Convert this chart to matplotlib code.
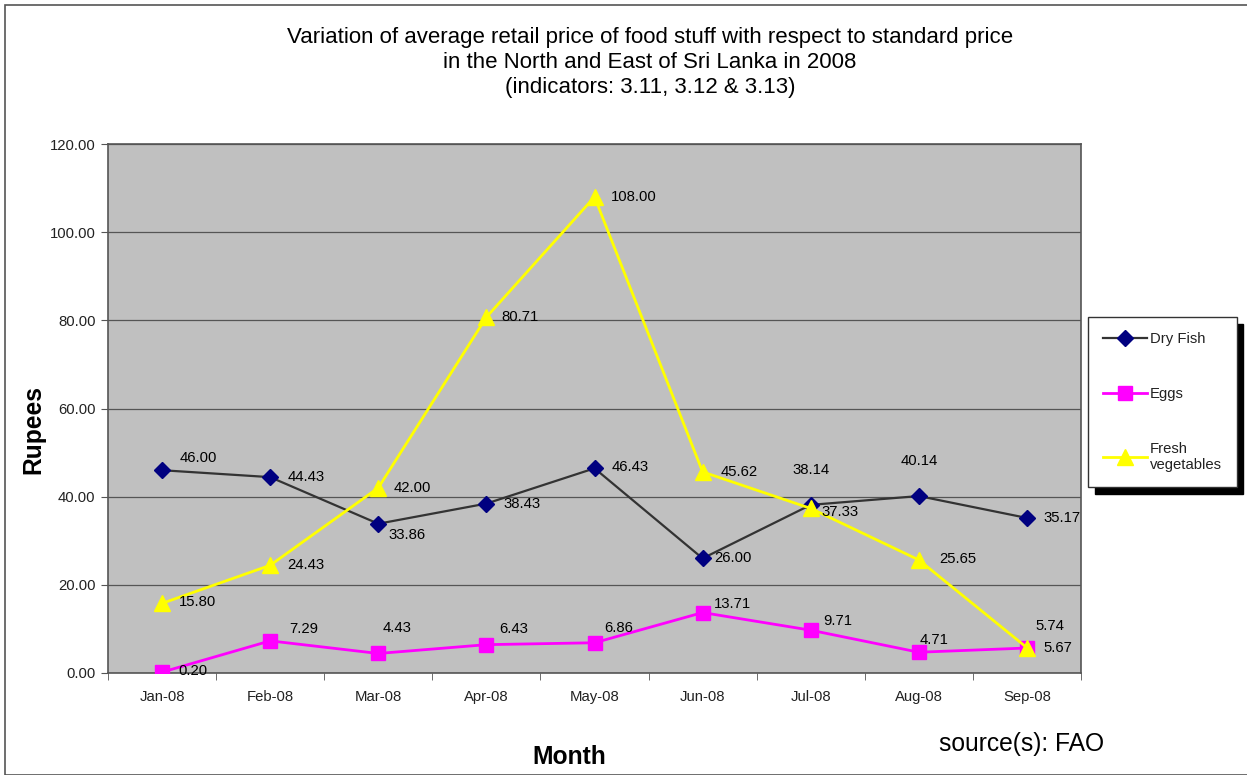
import matplotlib
matplotlib.use("Agg")
import matplotlib.pyplot as plt
from matplotlib.patches import Rectangle
from matplotlib.ticker import FixedLocator

plt.rcParams['font.family'] = ['Liberation Sans', 'DejaVu Sans']

months = ["Jan-08", "Feb-08", "Mar-08", "Apr-08", "May-08", "Jun-08", "Jul-08", "Aug-08", "Sep-08"]
dry_fish = [46.00, 44.43, 33.86, 38.43, 46.43, 26.00, 38.14, 40.14, 35.17]
eggs = [0.20, 7.29, 4.43, 6.43, 6.86, 13.71, 9.71, 4.71, 5.67]
fresh_veg = [15.80, 24.43, 42.00, 80.71, 108.00, 45.62, 37.33, 25.65, 5.74]
y_ticks = [0, 20, 40, 60, 80, 100, 120]

# label offsets in pixels (dx, dy, ha)
off_fish = [(18, 12, 'left'), (17, 0, 'left'), (10, -11, 'left'), (17, 0, 'left'), (17, 1, 'left'),
            (12, 0, 'left'), (0, 35, 'center'), (0, 35, 'center'), (17, 0, 'left')]
off_eggs = [(16, 1, 'left'), (19, 12, 'left'), (19, 25, 'center'), (13, 16, 'left'), (10, 15, 'left'),
            (11, 9, 'left'), (13, 9, 'left'), (15, 12, 'center'), (17, 0, 'left')]
off_veg = [(17, 1, 'left'), (17, 0, 'left'), (15, 0, 'left'), (15, 0, 'left'), (16, 0, 'left'),
           (18, 0, 'left'), (11, -4, 'left'), (20, 1, 'left'), (23, 22, 'center')]

fig = plt.figure(figsize=(12.47, 7.75), dpi=100)
fig.patch.set_facecolor('white')
fig.patches.append(Rectangle((5 / 1247, 0), 1.2, (775 - 5) / 775, transform=fig.transFigure,
                             fill=False, edgecolor='#555555', linewidth=1.2))

ax = fig.add_axes([108 / 1247, 102 / 775, (1081 - 108) / 1247, (673 - 144) / 775])
ax.set_facecolor('#C0C0C0')
x = list(range(len(months)))

ax.plot(x, dry_fish, color='#333333', lw=1.6, marker='D', ms=8, mfc='#000080', mec='#000080',
        label='Dry Fish', zorder=3)
ax.plot(x, eggs, color='#FF00FF', lw=2, marker='s', ms=10, mfc='#FF00FF', mec='#FF00FF',
        label='Eggs', zorder=3)
ax.plot(x, fresh_veg, color='#FFFF00', lw=2, marker='^', ms=11, mfc='#FFFF00', mec='#FFFF00',
        label='Fresh\nvegetables', zorder=4)

for series, offs in ((dry_fish, off_fish), (eggs, off_eggs), (fresh_veg, off_veg)):
    for xi, v, (dx, dy, ha) in zip(x, series, offs):
        ax.annotate(f"{v:.2f}", (xi, v), xytext=(dx, dy), textcoords='offset pixels',
                    ha=ha, va='center', fontsize=10.7, color='black', zorder=5)

ax.set_xlim(-0.5, len(months) - 0.5)
ax.set_ylim(0, 120)
ax.set_yticks(y_ticks)
ax.set_yticklabels([f"{t:.2f}" for t in y_ticks], fontsize=10.7, color='#222222')
ax.yaxis.grid(True, color='#555555', lw=0.9)
ax.set_axisbelow(True)
ax.set_xticks(x)
ax.set_xticklabels(months, fontsize=10.7, color='#222222')
ax.tick_params(axis='x', which='major', length=0, pad=12)
ax.xaxis.set_minor_locator(FixedLocator([i - 0.5 for i in range(len(months) + 1)]))
ax.tick_params(axis='x', which='minor', length=5, color='#555555', direction='out')
ax.tick_params(axis='y', length=5, color='#555555', direction='out', pad=4)
for s in ax.spines.values():
    s.set_color('#555555')
    s.set_linewidth(1.2)

fig.text(650 / 1247, 1 - 38 / 775, "Variation of average retail price of food stuff with respect to standard price",
         ha='center', va='center', fontsize=16)
fig.text(650 / 1247, 1 - 63 / 775, "in the North and East of Sri Lanka in 2008",
         ha='center', va='center', fontsize=16)
fig.text(650 / 1247, 1 - 87 / 775, "(indicators: 3.11, 3.12 & 3.13)",
         ha='center', va='center', fontsize=16)

fig.text(33 / 1247, 1 - 430 / 775, "Rupees", rotation=90, ha='center', va='center',
         fontsize=17.7, fontweight='bold')
fig.text(569 / 1247, 1 - 757 / 775, "Month", ha='center', va='center', fontsize=17.7, fontweight='bold')
fig.text(1022 / 1247, 1 - 744 / 775, "source(s): FAO", ha='center', va='center', fontsize=17.7)

leg = fig.legend(loc='upper left', bbox_to_anchor=(1088 / 1247, 1 - 317 / 775), borderaxespad=0,
                 fontsize=10.7, labelspacing=2.75, handlelength=3.0, handletextpad=0.15,
                 borderpad=1.0, fancybox=False, shadow={'color': 'black', 'alpha': 1, 'ox': 5, 'oy': -5},
                 framealpha=1, edgecolor='#333333')
leg.get_frame().set_linewidth(1.0)
for t in leg.get_texts():
    t.set_color('#222222')

fig.savefig("out.png", dpi=100)
